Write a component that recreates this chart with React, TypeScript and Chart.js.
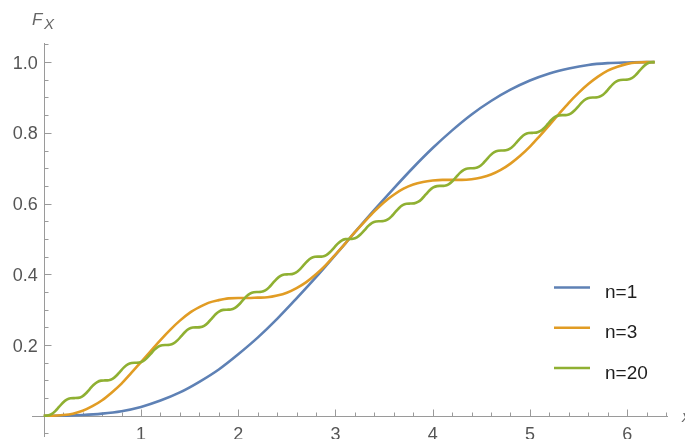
import { useEffect, useRef } from "react";
import { Chart, registerables } from "chart.js";

Chart.register(...registerables);

// CDF curves F_X(x) for n = 1, 3, 20 on [0, 2π]
const seriesLabels = ["n=1", "n=3", "n=20"];
const seriesColors = ["#5E81B5", "#E19C24", "#8FB032"];

const xN1 = [
  0, 0.2, 0.4, 0.6, 0.8, 1.0, 1.2, 1.4, 1.6, 1.8, 2.0, 2.2, 2.4, 2.6, 2.8, 3.0,
  3.2, 3.4, 3.6, 3.8, 4.0, 4.2, 4.4, 4.6, 4.8, 5.0, 5.2, 5.4, 5.6, 5.8, 6.0, 6.2, 6.283,
];
const yN1 = [
  0, 0.0, 0.002, 0.006, 0.013, 0.025, 0.043, 0.066, 0.096, 0.131, 0.174, 0.221, 0.274,
  0.332, 0.392, 0.455, 0.519, 0.582, 0.643, 0.702, 0.757, 0.807, 0.852, 0.89, 0.922,
  0.948, 0.968, 0.982, 0.992, 0.997, 0.999, 1.0, 1.0,
];

const xN3 = [
  0, 0.1, 0.2, 0.3, 0.4, 0.5, 0.6, 0.7, 0.8, 0.9, 1.0, 1.1, 1.2, 1.3, 1.4, 1.5, 1.6,
  1.7, 1.8, 1.9, 2.0, 2.1, 2.2, 2.3, 2.4, 2.5, 2.6, 2.7, 2.8, 2.9, 3.0, 3.1, 3.2, 3.3,
  3.4, 3.5, 3.6, 3.7, 3.8, 3.9, 4.0, 4.1, 4.2, 4.3, 4.4, 4.5, 4.6, 4.7, 4.8, 4.9, 5.0,
  5.1, 5.2, 5.3, 5.4, 5.5, 5.6, 5.7, 5.8, 5.9, 6.0, 6.1, 6.2, 6.283,
];
const yN3 = [
  0, 0.0, 0.002, 0.006, 0.014, 0.027, 0.044, 0.066, 0.091, 0.121, 0.152, 0.183, 0.214,
  0.243, 0.269, 0.291, 0.307, 0.32, 0.327, 0.332, 0.333, 0.333, 0.334, 0.335, 0.34,
  0.348, 0.361, 0.378, 0.4, 0.426, 0.456, 0.487, 0.519, 0.549, 0.578, 0.604, 0.625,
  0.642, 0.654, 0.661, 0.665, 0.667, 0.667, 0.667, 0.669, 0.674, 0.682, 0.695, 0.713,
  0.735, 0.761, 0.791, 0.822, 0.854, 0.885, 0.913, 0.938, 0.959, 0.976, 0.987, 0.995,
  0.999, 1.0, 1.0,
];

const xN20 = [
  0, 0.039, 0.079, 0.118, 0.157, 0.196, 0.236, 0.275,
  0.314, 0.353, 0.393, 0.432, 0.471, 0.511, 0.55, 0.589,
  0.628, 0.668, 0.707, 0.746, 0.785, 0.825, 0.864, 0.903,
  0.942, 0.982, 1.021, 1.06, 1.1, 1.139, 1.178, 1.217,
  1.257, 1.296, 1.335, 1.374, 1.414, 1.453, 1.492, 1.532,
  1.571, 1.61, 1.649, 1.689, 1.728, 1.767, 1.806, 1.846,
  1.885, 1.924, 1.963, 2.003, 2.042, 2.081, 2.121, 2.16,
  2.199, 2.238, 2.278, 2.317, 2.356, 2.395, 2.435, 2.474,
  2.513, 2.553, 2.592, 2.631, 2.67, 2.71, 2.749, 2.788,
  2.827, 2.867, 2.906, 2.945, 2.985, 3.024, 3.063, 3.102,
  3.142, 3.181, 3.22, 3.259, 3.299, 3.338, 3.377, 3.416,
  3.456, 3.495, 3.534, 3.574, 3.613, 3.652, 3.691, 3.731,
  3.77, 3.809, 3.848, 3.888, 3.927, 3.966, 4.006, 4.045,
  4.084, 4.123, 4.163, 4.202, 4.241, 4.28, 4.32, 4.359,
  4.398, 4.438, 4.477, 4.516, 4.555, 4.595, 4.634, 4.673,
  4.712, 4.752, 4.791, 4.83, 4.869, 4.909, 4.948, 4.987,
  5.027, 5.066, 5.105, 5.144, 5.184, 5.223, 5.262, 5.301,
  5.341, 5.38, 5.419, 5.458, 5.498, 5.537, 5.576, 5.616,
  5.655, 5.694, 5.733, 5.773, 5.812, 5.851, 5.89, 5.93,
  5.969, 6.008, 6.048, 6.087, 6.126, 6.165, 6.205, 6.244,
  6.283,
];
const yN20 = [
  0, 0.0006, 0.0045, 0.0131, 0.025, 0.0369, 0.0455, 0.0494,
  0.05, 0.0506, 0.0545, 0.0631, 0.075, 0.0869, 0.0955, 0.0994,
  0.1, 0.1006, 0.1045, 0.1131, 0.125, 0.1369, 0.1455, 0.1494,
  0.15, 0.1506, 0.1545, 0.1631, 0.175, 0.1869, 0.1955, 0.1994,
  0.2, 0.2006, 0.2045, 0.2131, 0.225, 0.2369, 0.2455, 0.2494,
  0.25, 0.2506, 0.2545, 0.2631, 0.275, 0.2869, 0.2955, 0.2994,
  0.3, 0.3006, 0.3045, 0.3131, 0.325, 0.3369, 0.3455, 0.3494,
  0.35, 0.3506, 0.3545, 0.3631, 0.375, 0.3869, 0.3955, 0.3994,
  0.4, 0.4006, 0.4045, 0.4131, 0.425, 0.4369, 0.4455, 0.4494,
  0.45, 0.4506, 0.4545, 0.4631, 0.475, 0.4869, 0.4955, 0.4994,
  0.5, 0.5006, 0.5045, 0.5131, 0.525, 0.5369, 0.5455, 0.5494,
  0.55, 0.5506, 0.5545, 0.5631, 0.575, 0.5869, 0.5955, 0.5994,
  0.6, 0.6006, 0.6045, 0.6131, 0.625, 0.6369, 0.6455, 0.6494,
  0.65, 0.6506, 0.6545, 0.6631, 0.675, 0.6869, 0.6955, 0.6994,
  0.7, 0.7006, 0.7045, 0.7131, 0.725, 0.7369, 0.7455, 0.7494,
  0.75, 0.7506, 0.7545, 0.7631, 0.775, 0.7869, 0.7955, 0.7994,
  0.8, 0.8006, 0.8045, 0.8131, 0.825, 0.8369, 0.8455, 0.8494,
  0.85, 0.8506, 0.8545, 0.8631, 0.875, 0.8869, 0.8955, 0.8994,
  0.9, 0.9006, 0.9045, 0.9131, 0.925, 0.9369, 0.9455, 0.9494,
  0.95, 0.9506, 0.9545, 0.9631, 0.975, 0.9869, 0.9955, 0.9994,
  1.0,
];

const xTickValues = [1, 2, 3, 4, 5, 6];
const xTickLabels = ["1", "2", "3", "4", "5", "6"];
const yTickValues = [0.2, 0.4, 0.6, 0.8, 1.0];
const yTickLabels = ["0.2", "0.4", "0.6", "0.8", "1.0"];

const AXIS_COLOR = "#9a9a9a";
const LABEL_COLOR = "#555555";
const FONT = "'Liberation Sans', Arial, sans-serif";

// Axes crossing at the origin, with inward major/minor ticks, plus labels and legend
const axesPlugin = {
  id: "originAxes",
  beforeDatasetsDraw(chart: any) {
    const { ctx, chartArea } = chart;
    const xs = chart.scales.x;
    const ys = chart.scales.y;
    const ox = Math.round(xs.getPixelForValue(0)) + 0.5;
    const oy = Math.round(ys.getPixelForValue(0)) + 0.5;
    ctx.save();
    ctx.strokeStyle = AXIS_COLOR;
    ctx.lineWidth = 1;
    ctx.beginPath();
    ctx.moveTo(chartArea.left, oy);
    ctx.lineTo(chartArea.right, oy);
    ctx.moveTo(ox, chartArea.top);
    ctx.lineTo(ox, chartArea.bottom);
    // x ticks every 0.2, major at integers
    for (let i = 1; i <= 32; i++) {
      const px = Math.round(xs.getPixelForValue(i * 0.2)) + 0.5;
      const len = i % 5 === 0 ? 7 : 4;
      ctx.moveTo(px, oy);
      ctx.lineTo(px, oy - len);
    }
    // y ticks every 0.05, major every 0.2
    for (let j = -1; j <= 21; j++) {
      if (j === 0) continue;
      const py = Math.round(ys.getPixelForValue(j * 0.05)) + 0.5;
      const len = j % 4 === 0 ? 7 : 4;
      ctx.moveTo(ox, py);
      ctx.lineTo(ox + len, py);
    }
    ctx.stroke();
    ctx.restore();
  },
  afterDraw(chart: any) {
    const { ctx } = chart;
    const xs = chart.scales.x;
    const ys = chart.scales.y;
    const ox = xs.getPixelForValue(0);
    const oy = ys.getPixelForValue(0);
    ctx.save();
    ctx.fillStyle = LABEL_COLOR;
    ctx.font = `18px ${FONT}`;
    ctx.textBaseline = "alphabetic";
    ctx.textAlign = "center";
    xTickValues.forEach((v, i) => {
      ctx.fillText(xTickLabels[i], xs.getPixelForValue(v), oy + 24);
    });
    ctx.textAlign = "right";
    yTickValues.forEach((v, i) => {
      ctx.fillText(yTickLabels[i], ox - 6, ys.getPixelForValue(v) + 6.5);
    });

    // axis labels
    ctx.fillStyle = "#666666";
    ctx.textAlign = "left";
    ctx.font = `italic 17px ${FONT}`;
    ctx.fillText("F", 32, 24.5);
    ctx.font = `italic 15px ${FONT}`;
    ctx.fillText("X", 44, 28.5);
    ctx.font = `italic 16px ${FONT}`;
    ctx.fillText("x", 682, oy + 6);

    // legend
    const legendTop = 287.5;
    const legendStep = 40.3;
    chart.data.datasets.forEach((ds: any, i: number) => {
      const y = legendTop + i * legendStep;
      ctx.strokeStyle = ds.borderColor;
      ctx.lineWidth = 2.5;
      ctx.beginPath();
      ctx.moveTo(554, y);
      ctx.lineTo(590, y);
      ctx.stroke();
      ctx.fillStyle = "#1e1e1e";
      ctx.font = `19px ${FONT}`;
      ctx.fillText(ds.label, 605, y + 10.5);
    });
    ctx.restore();
  },
};

export default function App() {
  const canvasRef = useRef<HTMLCanvasElement | null>(null);

  useEffect(() => {
    const canvas = canvasRef.current;
    if (!canvas) return;
    const series = [
      [xN1, yN1],
      [xN3, yN3],
      [xN20, yN20],
    ];
    const chart = new Chart(canvas, {
      type: "line",
      data: {
        datasets: series.map(([xsArr, ysArr], i) => ({
          label: seriesLabels[i],
          data: xsArr.map((x, k) => ({ x, y: ysArr[k] })),
          borderColor: seriesColors[i],
          backgroundColor: seriesColors[i],
          borderWidth: 2.6,
          pointRadius: 0,
          fill: false,
          cubicInterpolationMode: "monotone" as const,
          order: 2 - i,
        })),
      },
      options: {
        animation: false,
        responsive: false,
        devicePixelRatio: 1,
        layout: { padding: { left: 32, right: 17, top: 43, bottom: 2 } },
        scales: {
          x: { type: "linear", min: -0.121, max: 6.42, display: false },
          y: { type: "linear", min: -0.06, max: 1.054, display: false },
        },
        plugins: {
          legend: { display: false },
          tooltip: { enabled: false },
        },
      },
      plugins: [axesPlugin],
    });
    return () => chart.destroy();
  }, []);

  return (
    <>
      <style>{"body{margin:0;overflow:hidden;background:#fff}"}</style>
      <canvas
        ref={canvasRef}
        width={685}
        height={439}
        style={{ display: "block", width: 685, height: 439 }}
      />
    </>
  );
}
